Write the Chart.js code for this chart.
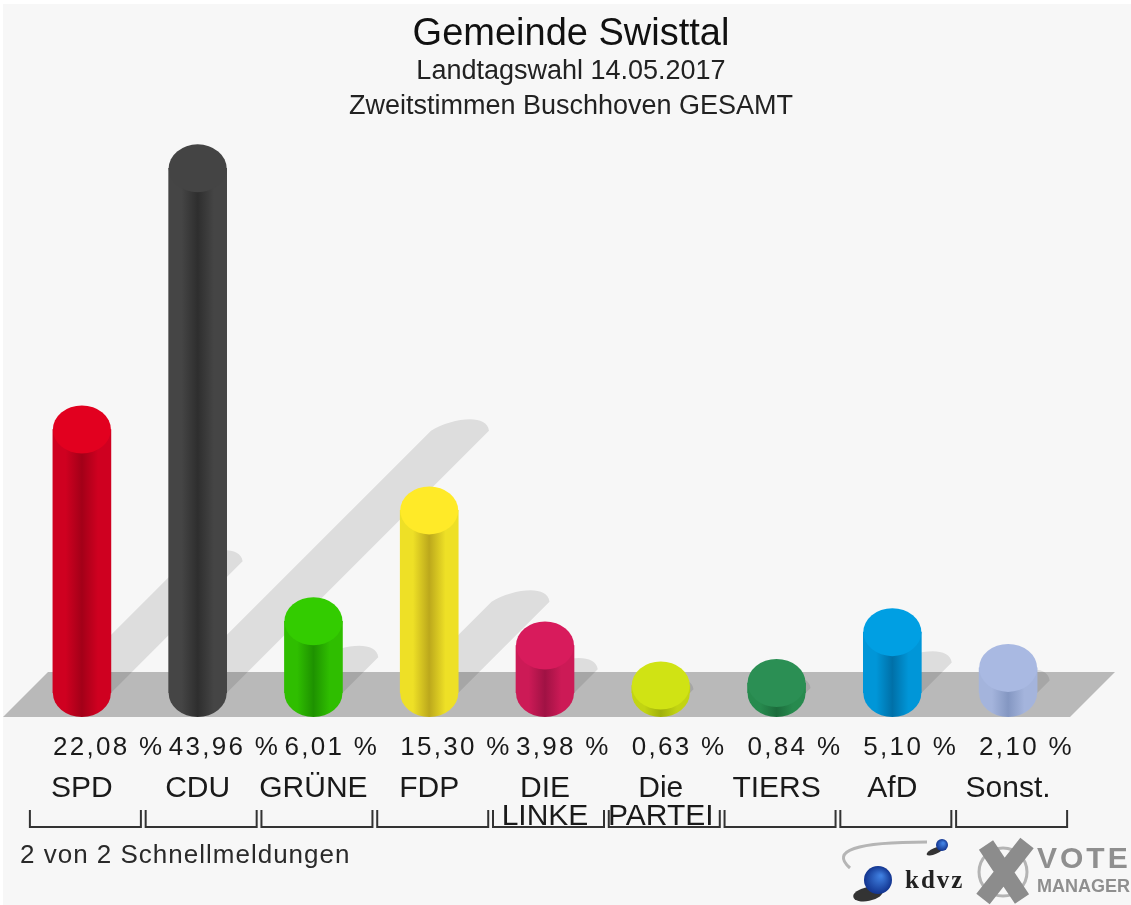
<!DOCTYPE html>
<html><head><meta charset="utf-8">
<style>html,body{margin:0;padding:0;background:#fff}canvas{display:block;filter:blur(0.5px)}</style>
<script src="https://cdn.jsdelivr.net/npm/chart.js@4"></script>
</head><body>
<div style="width:1131px;height:905px;overflow:hidden"><canvas id="c" width="1131" height="905"></canvas></div>
<script>
const categories = ['SPD','CDU','GRÜNE','FDP',['DIE','LINKE'],['Die','PARTEI'],'TIERS','AfD','Sonst.'];
const values = [22.08,43.96,6.01,15.30,3.98,0.63,0.84,5.10,2.10];
const valueLabels = ['22,08 %','43,96 %','6,01 %','15,30 %','3,98 %','0,63 %','0,84 %','5,10 %','2,10 %'];
const capColors = ['#e2001f','#444444','#33cc00','#ffea28','#d81b5c','#d0e314','#2b8f54','#009fe3','#a9b9e2'];
const edgeColors = ['#cf0020','#454545','#2fbe00','#eee026','#cc1a56','#c2d412','#278a4e','#0096d8','#a4b4dc'];
const coreColors = ['#a30018','#2e2e2e','#1e9200','#bca81c','#a01244','#a0b00c','#1c6c3c','#0070a8','#8497c2'];
const titleText = 'Gemeinde Swisttal';
const subtitleLines = ['Landtagswahl 14.05.2017','Zweitstimmen Buschhoven GESAMT'];
const footerText = '2 von 2 Schnellmeldungen';

const FONT = '"Liberation Sans", Arial, sans-serif';
const BAR_W = 58, RX = 29, RY = 24;

function bodyGradient(g, cx, i) {
  const gr = g.createLinearGradient(cx - RX, 0, cx + RX, 0);
  gr.addColorStop(0, edgeColors[i]);
  gr.addColorStop(0.22, edgeColors[i]);
  gr.addColorStop(0.5, coreColors[i]);
  gr.addColorStop(0.78, edgeColors[i]);
  gr.addColorStop(1, edgeColors[i]);
  return gr;
}

const cylinderPlugin = {
  id: 'cylinder',
  beforeDraw(chart) {
    const g = chart.ctx;
    g.save();
    g.fillStyle = '#f7f7f7';
    g.fillRect(3, 4, chart.width - 3, chart.height - 4);
    g.restore();
  },
  beforeDatasetsDraw(chart) {
    const g = chart.ctx, x = chart.scales.x, y = chart.scales.y, y0 = y.getPixelForValue(0);
    g.save();
    // floor
    g.fillStyle = '#b9b9b9';
    g.beginPath();
    g.moveTo(48, y0 - 21); g.lineTo(1115, y0 - 21); g.lineTo(1070, y0 + 24); g.lineTo(3, y0 + 24);
    g.closePath(); g.fill();
    // shadows
    g.fillStyle = 'rgba(0,0,0,0.1)';
    g.beginPath();
    values.forEach((v, i) => {
      const cx = x.getPixelForValue(i), L = (y0 - y.getPixelForValue(v)) * 0.5;
      const sx = cx - RX + L, ex = cx + RX + L, ty = y0 - L;
      g.moveTo(cx - RX, y0);
      g.lineTo(sx, ty);
      g.bezierCurveTo(sx + 20, ty - 12, ex - 2, ty - 18, ex, ty);
      g.lineTo(cx + RX, y0);
      g.closePath();
    });
    g.fill();
    // bottom of each cylinder
    values.forEach((v, i) => {
      const cx = x.getPixelForValue(i);
      g.fillStyle = bodyGradient(g, cx, i);
      g.beginPath();
      g.ellipse(cx, y0, RX, RY, 0, 0, Math.PI);
      g.closePath(); g.fill();
    });
    g.restore();
  },
  afterDatasetsDraw(chart) {
    const g = chart.ctx, x = chart.scales.x, y = chart.scales.y;
    g.save();
    values.forEach((v, i) => {
      const cx = x.getPixelForValue(i), cy = y.getPixelForValue(v);
      g.fillStyle = capColors[i];
      g.beginPath();
      g.ellipse(cx, cy, RX, RY, 0, 0, 2 * Math.PI);
      g.fill();
    });
    g.restore();
  },
  afterDraw(chart) {
    const g = chart.ctx, x = chart.scales.x;
    g.save();
    // value labels
    g.fillStyle = '#1a1a1a';
    g.font = '26px ' + FONT;
    g.letterSpacing = '2.3px';
    g.textAlign = 'left'; g.textBaseline = 'middle';
    valueLabels.forEach((t, i) => g.fillText(t, x.getPixelForValue(i) - 29, 748));
    // brackets
    g.strokeStyle = '#333'; g.lineWidth = 2;
    values.forEach((v, i) => {
      const cx = x.getPixelForValue(i);
      g.beginPath();
      g.moveTo(cx - 52, 810); g.lineTo(cx - 52, 827); g.lineTo(cx + 59, 827); g.lineTo(cx + 59, 810);
      g.stroke();
    });
    // footer
    g.fillStyle = '#2a2a2a';
    g.font = '26px ' + FONT;
    g.letterSpacing = '1px';
    g.fillText(footerText, 20, 856);
    g.letterSpacing = '0px';
    // kdvz logo
    g.strokeStyle = '#b5b5b5'; g.lineWidth = 3;
    g.beginPath(); g.moveTo(927, 842); g.quadraticCurveTo(820, 842, 850, 868); g.stroke();
    g.fillStyle = '#333';
    g.beginPath(); g.ellipse(935, 851, 9, 3, -0.4, 0, 7); g.fill();
    g.beginPath(); g.ellipse(868, 894, 15, 7, -0.2, 0, 7); g.fill();
    const ball = (bx, by, r) => {
      const gr = g.createRadialGradient(bx + r * .2, by - r * .3, 1, bx, by, r);
      gr.addColorStop(0, '#3f7fe0'); gr.addColorStop(1, '#12348f');
      g.fillStyle = gr; g.beginPath(); g.arc(bx, by, r, 0, 7); g.fill();
    };
    ball(942, 845, 6); ball(878, 880, 14);
    g.fillStyle = '#222';
    g.font = 'bold 25px "Liberation Serif", serif';
    g.letterSpacing = '2px';
    g.textAlign = 'left';
    g.fillText('kdvz', 905, 882);
    // vote manager logo
    g.strokeStyle = '#b4b4b4'; g.lineWidth = 3;
    g.beginPath(); g.arc(1003, 872, 24, 0, 7); g.stroke();
    g.strokeStyle = '#8c8c8c'; g.lineWidth = 17;
    g.beginPath(); g.moveTo(986, 845); g.lineTo(1022, 899); g.moveTo(1027, 843); g.lineTo(983, 899); g.stroke();
    g.fillStyle = '#8f8f8f';
    g.font = 'bold 30px ' + FONT;
    g.letterSpacing = '3px';
    g.fillText('VOTE', 1037, 860);
    g.font = 'bold 18px ' + FONT;
    g.letterSpacing = '0px';
    g.fillText('MANAGER', 1037, 887);
    g.restore();
  }
};

new Chart(document.getElementById('c'), {
  type: 'bar',
  data: {
    labels: categories,
    datasets: [{
      data: values,
      barThickness: BAR_W,
      borderWidth: 0,
      backgroundColor(ctx) {
        const sc = ctx.chart.scales && ctx.chart.scales.x;
        const i = ctx.dataIndex;
        if (!sc || i === undefined) return edgeColors[0];
        const px = sc.getPixelForValue(i);
        if (!Number.isFinite(px)) return edgeColors[i];
        return bodyGradient(ctx.chart.ctx, px, i);
      }
    }]
  },
  plugins: [cylinderPlugin, {
    id: 'spacing',
    beforeInit(chart) { chart.ctx.letterSpacing = '3px'; }
  }],
  options: {
    responsive: false,
    animation: false,
    layout: { padding: { left: 11, right: 0, top: 0, bottom: 0 } },
    plugins: {
      legend: { display: false },
      tooltip: { enabled: false },
      title: {
        display: true, text: titleText, color: '#111',
        font: { family: FONT, size: 38, weight: '500', lineHeight: '38px' },
        padding: { top: 16, bottom: 0 }
      },
      subtitle: {
        display: true, text: subtitleLines, color: '#222',
        font: { family: FONT, size: 27, lineHeight: '35px' },
        padding: { top: 0, bottom: 20 }
      }
    },
    scales: {
      y: { display: false, min: 0, max: 46 },
      x: {
        grid: { display: false }, border: { display: false },
        afterFit(s) { s.height = 212; s.paddingLeft = 24; s.paddingRight = 65; },
        ticks: {
          autoSkip: false, maxRotation: 0, minRotation: 0, padding: 74, color: '#1a1a1a',
          font: { family: FONT, size: 30, lineHeight: '28px' }
        }
      }
    }
  }
});
</script>
</body></html>
